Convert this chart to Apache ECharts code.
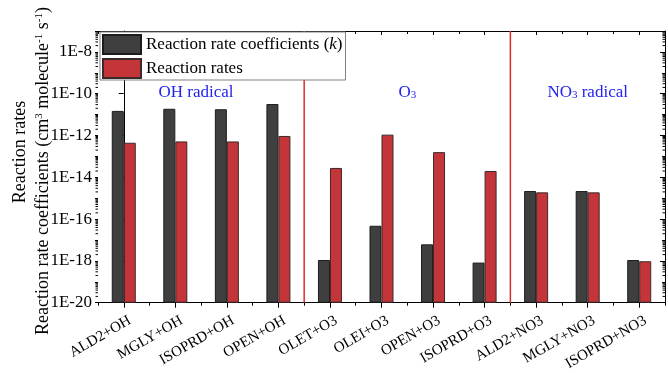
<!DOCTYPE html>
<html>
<head>
<meta charset="utf-8">
<script src="https://cdn.jsdelivr.net/npm/echarts@6/dist/echarts.min.js"></script>
<style>
  html, body { margin: 0; padding: 0; background: #fff; }
  #chart { width: 668px; height: 373px; }
</style>
</head>
<body>
<div id="chart"></div>
<script>
// Reactions on the category axis
const categories = ['ALD2+OH', 'MGLY+OH', 'ISOPRD+OH', 'OPEN+OH', 'OLET+O3', 'OLEI+O3',
  'OPEN+O3', 'ISOPRD+O3', 'ALD2+NO3', 'MGLY+NO3', 'ISOPRD+NO3'];

// Reaction rate coefficients k (cm3 molecule-1 s-1)
const rateCoefficients = [1.5e-11, 1.9e-11, 1.8e-11, 3.2e-11, 1.1e-18, 4.8e-17,
  6.2e-18, 8.3e-19, 2.2e-15, 2.2e-15, 1.1e-18];

// Reaction rates
const reactionRates = [4.5e-13, 5.2e-13, 5.2e-13, 9.5e-13, 2.8e-14, 1.1e-12,
  1.6e-13, 2.0e-14, 1.9e-15, 1.9e-15, 9.6e-19];

// Labelled exponents on the log axis
const yLabelExponents = [-20, -18, -16, -14, -12, -10, -8];

// Oxidant groups: separators between them and a title over each
const dividers = [3.5, 7.5];
const groupTitles = ['OH radical', 'O{sub|3}', 'NO{sub|3} radical'];
const groupCenters = [1.4, 5.5, 9];

const SERIF = '"Liberation Serif", "Times New Roman", serif';
const Y_MIN = 1e-20, Y_MAX = 1e-7;
const K_NAME = 'Reaction rate coefficients (k)';
const R_NAME = 'Reaction rates';

// log-scale minor ticks (2..9 within every decade)
const minorLogTicks = [];
for (let e = -20; e < -7; e++) {
  for (let m = 2; m <= 9; m++) minorLogTicks.push([0, m * Math.pow(10, e)]);
}

const chart = echarts.init(document.getElementById('chart'), null, { renderer: 'canvas' });

function logAxis(extra) {
  return Object.assign({
    type: 'log', logBase: 10, min: Y_MIN, max: Y_MAX, startValue: Y_MIN,
    splitLine: { show: false },
    axisLine: { show: false },
    axisLabel: { show: false },
    axisTick: { show: true, lineStyle: { color: '#000', width: 1 } }
  }, extra);
}

function catAxis(extra) {
  return Object.assign({
    type: 'category', data: categories, boundaryGap: true,
    splitLine: { show: false },
    axisLine: { show: false, onZero: false },
    axisLabel: { show: false },
    axisTick: { show: true, interval: 0, lineStyle: { color: '#000', width: 1 } }
  }, extra);
}

const option = {
  animation: false,
  backgroundColor: '#fff',
  grid: { left: 98, right: 3, top: 31, bottom: 64, containLabel: false },
  legend: {
    data: [K_NAME, R_NAME],
    orient: 'vertical',
    left: 100, top: 32,
    itemWidth: 38, itemHeight: 19, itemGap: 3,
    icon: 'rect',
    padding: [2, 3, 1, 2],
    borderColor: '#808080', borderWidth: 1,
    backgroundColor: '#fff',
    selectedMode: false,
    textStyle: {
      fontFamily: SERIF, fontSize: 17, color: '#000',
      rich: { i: { fontFamily: SERIF, fontSize: 17, fontStyle: 'italic', color: '#000' } }
    },
    formatter: function (name) {
      return name === K_NAME ? 'Reaction rate coefficients ({i|k})' : name;
    }
  },
  xAxis: [
    catAxis({
      position: 'bottom',
      axisLine: { show: true, onZero: false, lineStyle: { color: '#000', width: 1 } },
      axisTick: { show: true, interval: 0, alignWithLabel: true, length: 5, lineStyle: { color: '#000' } },
      axisLabel: {
        show: true, interval: 0, rotate: 30, margin: 6, verticalAlign: 'top', padding: [5, 0, 0, 0],
        fontFamily: SERIF, fontSize: 15, color: '#000'
      }
    }),
    catAxis({ position: 'bottom', axisTick: { show: true, interval: 0, length: 3, lineStyle: { color: '#000' } } }),
    catAxis({
      position: 'top',
      axisLine: { show: true, onZero: false, lineStyle: { color: '#000', width: 1 } },
      axisTick: { show: true, interval: 0, inside: true, alignWithLabel: true, length: 4, lineStyle: { color: '#000' } }
    }),
    catAxis({ position: 'top', axisTick: { show: true, interval: 0, inside: true, length: 3, lineStyle: { color: '#000' } } }),
    { type: 'value', min: -0.5, max: 10.5, show: false }
  ],
  yAxis: [
    logAxis({
      position: 'left', interval: 2,
      axisLine: { show: true, lineStyle: { color: '#000', width: 1 } },
      axisTick: { show: true, length: 5, lineStyle: { color: '#000' } },
      axisLabel: {
        show: true, margin: 6, fontFamily: SERIF, fontSize: 17, color: '#000',
        showMaxLabel: false,
        formatter: function (v) {
          const e = Math.round(Math.log10(v));
          return yLabelExponents.indexOf(e) >= 0 ? '1E' + e : '';
        }
      }
    }),
    logAxis({ position: 'left', interval: 1, axisTick: { show: true, length: 3, lineStyle: { color: '#000' } } }),
    logAxis({
      position: 'right', interval: 2,
      axisLine: { show: true, lineStyle: { color: '#000', width: 1 } },
      axisTick: { show: true, inside: true, length: 5, lineStyle: { color: '#000' } }
    }),
    logAxis({ position: 'right', interval: 1, axisTick: { show: true, inside: true, length: 3, lineStyle: { color: '#000' } } })
  ],
  series: [
    {
      name: K_NAME, type: 'bar', xAxisIndex: 0, yAxisIndex: 0,
      data: rateCoefficients,
      barWidth: 12, barGap: '0%',
      itemStyle: { color: '#3f3f3f', borderColor: '#1c1c1c', borderWidth: 1 },
      z: 3
    },
    {
      name: R_NAME, type: 'bar', xAxisIndex: 0, yAxisIndex: 0,
      data: reactionRates,
      barWidth: 12, barGap: '0%',
      itemStyle: { color: '#c4353a', borderColor: '#3a2a2a', borderWidth: 1 },
      z: 3
    }
  ].concat(dividers.map(function (d) {
    return {
      type: 'line', xAxisIndex: 4, yAxisIndex: 0, silent: true,
      data: [[d, Y_MIN], [d, Y_MAX]],
      symbol: 'none',
      lineStyle: { color: '#e02a2a', width: 1.5 },
      z: 2
    };
  })).concat([{
    type: 'custom', xAxisIndex: 0, yAxisIndex: 0, silent: true, clip: false,
    data: minorLogTicks,
    encode: { x: 0, y: 1 },
    renderItem: function (params, api) {
      const y = api.coord([0, api.value(1)])[1];
      const cs = params.coordSys;
      const st = { stroke: '#000', lineWidth: 1 };
      return {
        type: 'group',
        children: [
          { type: 'line', shape: { x1: cs.x - 2.5, y1: y, x2: cs.x, y2: y }, style: st },
          { type: 'line', shape: { x1: cs.x + cs.width, y1: y, x2: cs.x + cs.width - 2.5, y2: y }, style: st }
        ]
      };
    }
  }])
};

chart.setOption(option);

// Axis titles and group titles
const titles = [
  {
    type: 'text', x: 20, y: 152, rotation: Math.PI / 2,
    style: { text: 'Reaction rates', fontFamily: SERIF, fontSize: 18, fill: '#000', align: 'center', verticalAlign: 'middle' }
  },
  {
    type: 'text', x: 43, y: 171, rotation: Math.PI / 2,
    style: {
      text: 'Reaction rate coefficients (cm{sup|3} molecule{sup|-1} s{sup|-1})',
      fontFamily: SERIF, fontSize: 18, fill: '#000', align: 'center', verticalAlign: 'middle',
      rich: { sup: { fontFamily: SERIF, fontSize: 11, lineHeight: 10, verticalAlign: 'top' } }
    }
  }
];
groupTitles.forEach(function (t, i) {
  const p = chart.convertToPixel({ xAxisIndex: 4, yAxisIndex: 0 }, [groupCenters[i], 1.2e-10]);
  titles.push({
    type: 'text', x: p[0], y: p[1],
    style: {
      text: t, fontFamily: SERIF, fontSize: 17, fill: '#2222ee', align: 'center', verticalAlign: 'middle',
      rich: { sub: { fontFamily: SERIF, fontSize: 11, lineHeight: 10, verticalAlign: 'bottom', fill: '#2222ee' } }
    }
  });
});
chart.setOption({ graphic: titles });
</script>
</body>
</html>
